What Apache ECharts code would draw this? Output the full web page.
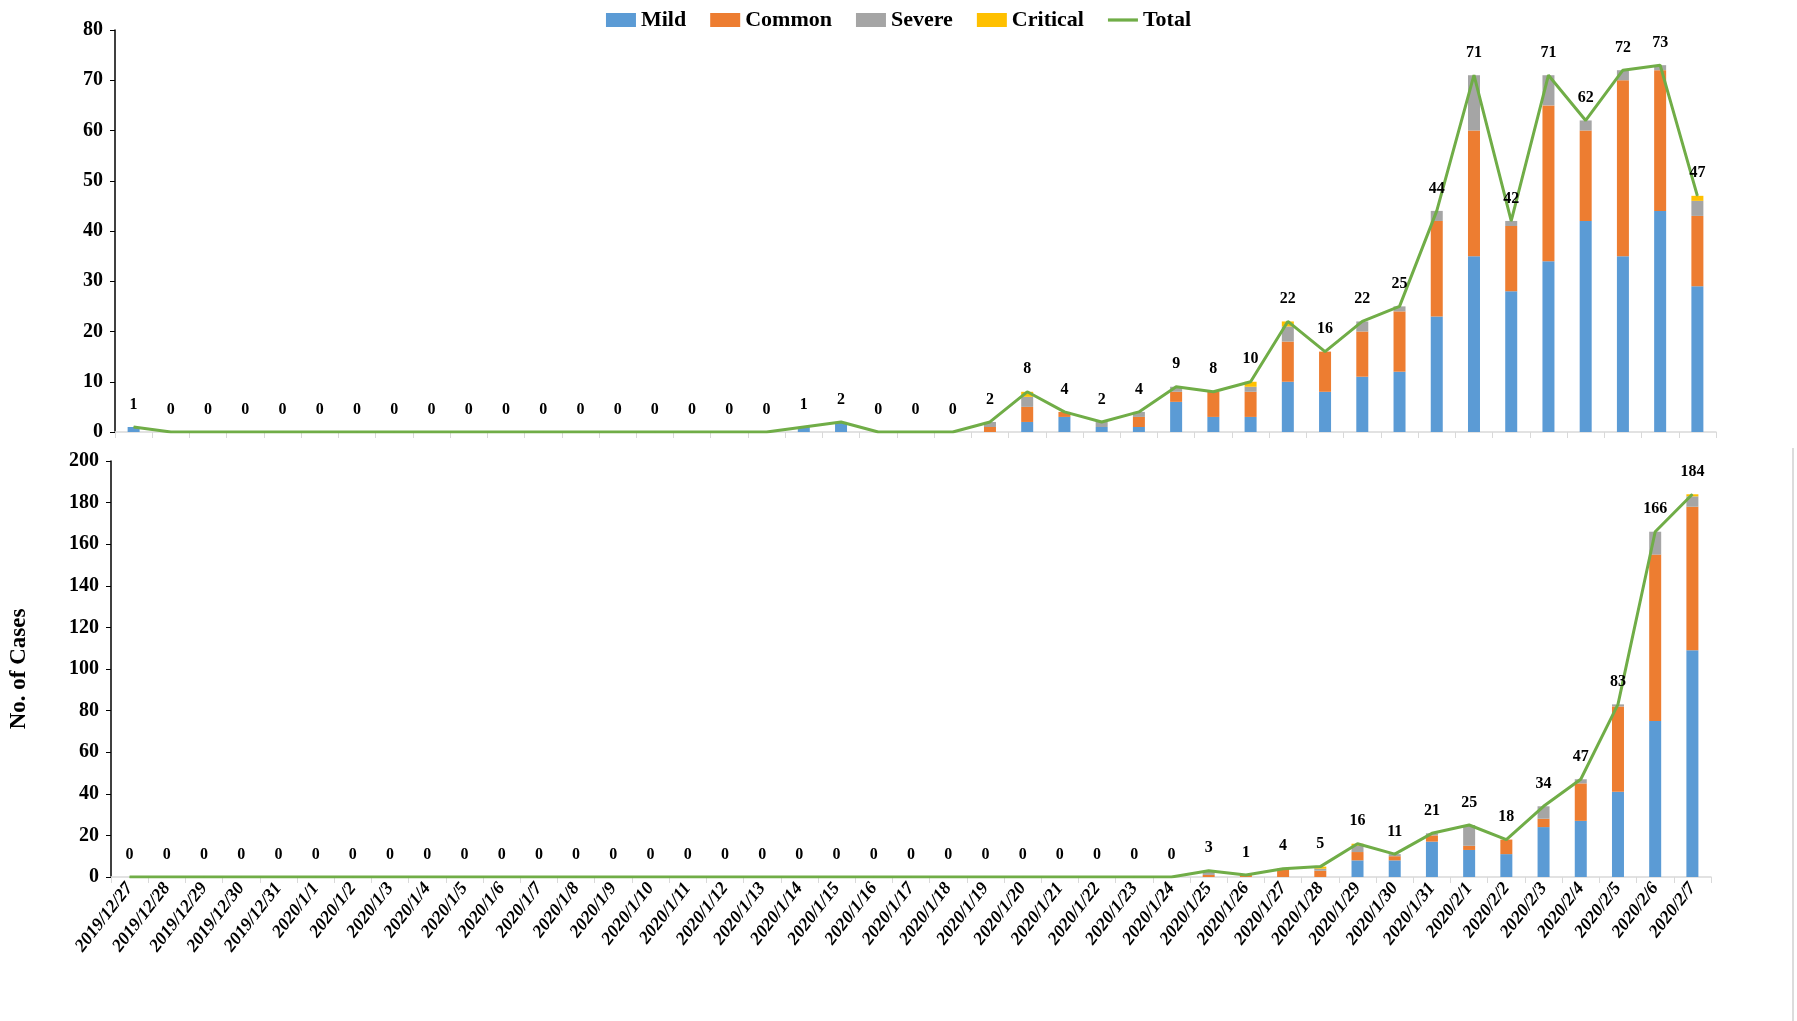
<!DOCTYPE html>
<html>
<head>
<meta charset="utf-8">
<script src="https://cdn.jsdelivr.net/npm/echarts@6/dist/echarts.min.js"></script>
<style>html,body{margin:0;padding:0;background:#fff}#c{width:1797px;height:1021px}</style>
</head>
<body>
<div id="c"></div>
<script>
const dates = ['2019/12/27','2019/12/28','2019/12/29','2019/12/30','2019/12/31','2020/1/1','2020/1/2','2020/1/3','2020/1/4','2020/1/5','2020/1/6','2020/1/7','2020/1/8','2020/1/9','2020/1/10','2020/1/11','2020/1/12','2020/1/13','2020/1/14','2020/1/15','2020/1/16','2020/1/17','2020/1/18','2020/1/19','2020/1/20','2020/1/21','2020/1/22','2020/1/23','2020/1/24','2020/1/25','2020/1/26','2020/1/27','2020/1/28','2020/1/29','2020/1/30','2020/1/31','2020/2/1','2020/2/2','2020/2/3','2020/2/4','2020/2/5','2020/2/6','2020/2/7'];

// Top panel
const topMild     = [1,0,0,0,0,0,0,0,0,0,0,0,0,0,0,0,0,0,1,2,0,0,0,0,2,3,1,1,6,3,3,10,8,11,12,23,35,28,34,42,35,44,29];
const topCommon   = [0,0,0,0,0,0,0,0,0,0,0,0,0,0,0,0,0,0,0,0,0,0,0,1,3,1,0,2,2,5,5,8,8,9,12,19,25,13,31,18,35,28,14];
const topSevere   = [0,0,0,0,0,0,0,0,0,0,0,0,0,0,0,0,0,0,0,0,0,0,0,1,2,0,1,1,1,0,1,3,0,2,1,2,11,1,6,2,2,1,3];
const topCritical = [0,0,0,0,0,0,0,0,0,0,0,0,0,0,0,0,0,0,0,0,0,0,0,0,1,0,0,0,0,0,1,1,0,0,0,0,0,0,0,0,0,0,1];
const topTotal    = [1,0,0,0,0,0,0,0,0,0,0,0,0,0,0,0,0,0,1,2,0,0,0,2,8,4,2,4,9,8,10,22,16,22,25,44,71,42,71,62,72,73,47];

// Bottom panel
const botMild     = [0,0,0,0,0,0,0,0,0,0,0,0,0,0,0,0,0,0,0,0,0,0,0,0,0,0,0,0,0,0,0,0,0,8,8,17,13,11,24,27,41,75,109];
const botCommon   = [0,0,0,0,0,0,0,0,0,0,0,0,0,0,0,0,0,0,0,0,0,0,0,0,0,0,0,0,0,1,1,4,3,4,2,3,2,7,4,18,41,80,69];
const botSevere   = [0,0,0,0,0,0,0,0,0,0,0,0,0,0,0,0,0,0,0,0,0,0,0,0,0,0,0,0,0,2,0,0,1,3,1,1,10,0,6,2,1,11,5];
const botCritical = [0,0,0,0,0,0,0,0,0,0,0,0,0,0,0,0,0,0,0,0,0,0,0,0,0,0,0,0,0,0,0,0,1,1,0,0,0,0,0,0,0,0,1];
const botTotal    = [0,0,0,0,0,0,0,0,0,0,0,0,0,0,0,0,0,0,0,0,0,0,0,0,0,0,0,0,0,3,1,4,5,16,11,21,25,18,34,47,83,166,184];

const topTicks = {min:0, max:80, interval:10};
const botTicks = {min:0, max:200, interval:20};

const FONT = 'Liberation Serif';
const colors = {Mild:'#5B9BD5', Common:'#ED7D31', Severe:'#A5A5A5', Critical:'#FFC000', Total:'#70AD47'};

function barSeries(name, data, idx, stack) {
  return {name, type:'bar', stack, xAxisIndex:idx, yAxisIndex:idx, data,
    barWidth:12, itemStyle:{color:colors[name]}};
}
function lineSeries(data, idx) {
  return {name:'Total', type:'line', xAxisIndex:idx, yAxisIndex:idx, data,
    showSymbol:true, symbol:'circle', symbolSize:1,
    lineStyle:{color:colors.Total, width:3}, itemStyle:{color:colors.Total},
    label:{show:true, position:'top', distance:14, fontFamily:FONT, fontWeight:'bold', fontSize:16, color:'#000'},
    labelLayout:{hideOverlap:false},
    z:5};
}
function xAxis(idx, showLabels) {
  return {type:'category', gridIndex:idx, data:dates, boundaryGap:true,
    axisLine:{lineStyle:{color:'#d9d9d9', width:1.5}},
    axisTick:{show:true, lineStyle:{color:'#d9d9d9'}, length:6},
    axisLabel:{show:showLabels, interval:0, rotate:52, fontFamily:FONT, fontWeight:'bold', fontStyle:'italic', fontSize:18, color:'#000', margin:8}};
}
function yAxis(idx, t, name) {
  return {type:'value', gridIndex:idx, min:t.min, max:t.max, interval:t.interval,
    name, nameLocation:'middle', nameGap:80, nameRotate:90,
    nameTextStyle:{fontFamily:FONT, fontWeight:'bold', fontSize:23, color:'#000'},
    splitLine:{show:false},
    axisLine:{show:true, lineStyle:{color:'#000', width:1.5}},
    axisTick:{show:true, length:5, lineStyle:{color:'#000'}},
    axisLabel:{fontFamily:FONT, fontWeight:'bold', fontSize:20, color:'#000', margin:12}};
}

const chart = echarts.init(document.getElementById('c'));
chart.setOption({
  backgroundColor:'#fff',
  animation:false,
  legend:{
    top:4, left:'center', itemGap:24, itemWidth:30, itemHeight:14,
    textStyle:{fontFamily:FONT, fontWeight:'bold', fontSize:22, color:'#000'},
    data:[
      {name:'Mild', icon:'rect'},
      {name:'Common', icon:'rect'},
      {name:'Severe', icon:'rect'},
      {name:'Critical', icon:'rect'},
      {name:'Total', icon:'path://M0,6 L28,6 L28,9 L0,9 Z'}
    ]
  },
  grid:[
    {left:115, top:30, width:1601, height:402},
    {left:111, top:461, width:1600, height:416}
  ],
  xAxis:[xAxis(0,false), xAxis(1,true)],
  yAxis:[yAxis(0, topTicks, ''), yAxis(1, botTicks, 'No. of Cases')],
  series:[
    barSeries('Mild', topMild, 0, 'a'),
    barSeries('Common', topCommon, 0, 'a'),
    barSeries('Severe', topSevere, 0, 'a'),
    barSeries('Critical', topCritical, 0, 'a'),
    lineSeries(topTotal, 0),
    barSeries('Mild', botMild, 1, 'b'),
    barSeries('Common', botCommon, 1, 'b'),
    barSeries('Severe', botSevere, 1, 'b'),
    barSeries('Critical', botCritical, 1, 'b'),
    lineSeries(botTotal, 1)
  ],
  graphic:[
    {type:'line', shape:{x1:1793, y1:448, x2:1793, y2:1021}, style:{stroke:'#d0d0d0', lineWidth:1.5}}
  ]
});
</script>
</body>
</html>
